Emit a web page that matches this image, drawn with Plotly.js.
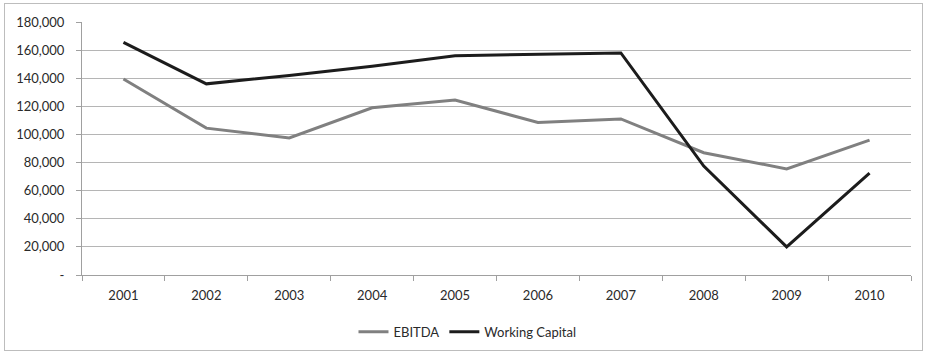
<!DOCTYPE html>
<html>
<head>
<meta charset="utf-8">
<script src="https://cdn.plot.ly/plotly-3.0.1.min.js"></script>
<style>
html,body{margin:0;padding:0;background:#fff;}
#wrap{position:relative;width:927px;height:355px;}
#chart{width:927px;height:355px;}
#frame{position:absolute;left:4px;top:3px;width:917px;height:346px;border:1px solid #bdbdbd;pointer-events:none;}
</style>
</head>
<body>
<div id="wrap"><div id="chart"></div><div id="frame"></div></div>
<script>
const years = ['2001','2002','2003','2004','2005','2006','2007','2008','2009','2010'];
const ebitda = [139500, 104500, 97500, 119000, 124500, 108500, 111000, 87000, 75500, 96000];
const workingCapital = [165500, 136000, 142000, 148500, 156000, 157000, 158000, 77500, 20000, 72500];
const yTickVals = [0, 20000, 40000, 60000, 80000, 100000, 120000, 140000, 160000, 180000];
const yTickText = ['-', '20,000', '40,000', '60,000', '80,000', '100,000', '120,000', '140,000', '160,000', '180,000'];

const font = {family: 'Lato, "Open Sans", sans-serif', size: 13, color: '#2a2a2a'};
const traces = [
  {x: years, y: ebitda, name: 'EBITDA', type: 'scatter', mode: 'lines',
   line: {color: '#808080', width: 3}},
  {x: years, y: workingCapital, name: 'Working Capital', type: 'scatter', mode: 'lines',
   line: {color: '#1c1c1c', width: 3}}
];
const layout = {
  width: 927, height: 355,
  margin: {l: 82, r: 16, t: 22, b: 80, autoexpand: false},
  paper_bgcolor: '#fff', plot_bgcolor: '#fff',
  font: font,
  showlegend: true,
  legend: {orientation: 'h', x: 0.465, xanchor: 'center', y: -0.225, yanchor: 'middle',
           font: font, tracegroupgap: 0, itemwidth: 30},
  xaxis: {type: 'category', range: [-0.5, 9.5], autorange: false, showgrid: false,
          showline: true, linecolor: '#a0a0a0', linewidth: 1,
          ticks: 'outside', tickson: 'boundaries', ticklen: 5, tickcolor: '#a0a0a0',
          ticklabelstandoff: 8, tickfont: font, fixedrange: true, automargin: false},
  yaxis: {range: [0, 180000], autorange: false, tickvals: yTickVals, ticktext: yTickText,
          showgrid: true, gridcolor: '#b5b5b5', gridwidth: 1,
          showline: true, linecolor: '#a0a0a0', linewidth: 1,
          ticks: 'outside', ticklen: 5, tickcolor: '#a0a0a0', ticklabelstandoff: 9,
          zeroline: false, tickfont: font, fixedrange: true, automargin: false}
};
Plotly.newPlot('chart', traces, layout, {displayModeBar: false, staticPlot: true});
</script>
</body>
</html>
